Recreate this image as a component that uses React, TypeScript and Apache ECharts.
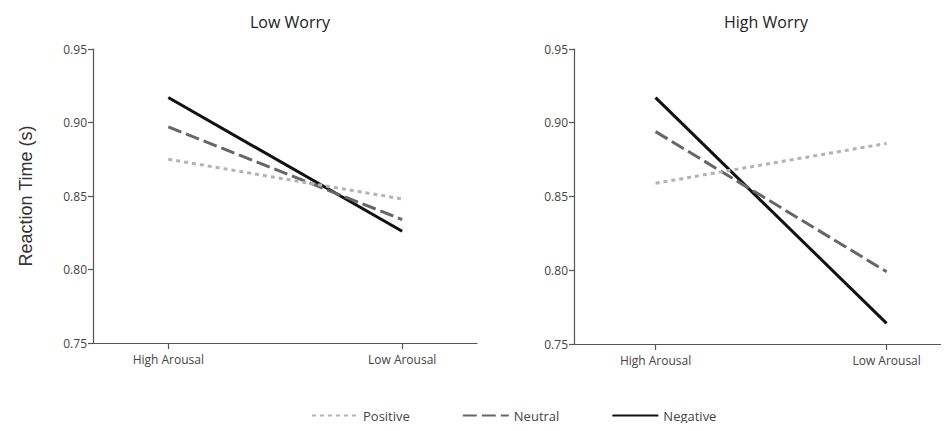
import React, { useEffect, useRef } from "react";
import * as echarts from "echarts";

const categories = ["High Arousal", "Low Arousal"];
const panels = ["Low Worry", "High Worry"];
const seriesNames = ["Positive", "Neutral", "Negative"];
const lowWorryPositive = [0.875, 0.848];
const lowWorryNeutral = [0.897, 0.834];
const lowWorryNegative = [0.917, 0.826];
const highWorryPositive = [0.859, 0.886];
const highWorryNeutral = [0.894, 0.799];
const highWorryNegative = [0.917, 0.764];
const yTicks = [0.75, 0.8, 0.85, 0.9, 0.95];

const FONT = "'Open Sans', 'Liberation Sans', sans-serif";

export default function App() {
  const ref = useRef<HTMLDivElement>(null);
  useEffect(() => {
    if (!ref.current) return;
    const chart = echarts.init(ref.current, undefined, { renderer: "svg" });
    const styles = [
      { color: "#b3b3b3", width: 3, type: [4, 4] as any },
      { color: "#666666", width: 3, type: [14, 5] as any },
      { color: "#111111", width: 3, type: "solid" as any },
    ];
    const data = [
      [lowWorryPositive, lowWorryNeutral, lowWorryNegative],
      [highWorryPositive, highWorryNeutral, highWorryNegative],
    ];
    const series: any[] = [];
    data.forEach((panel, pi) => {
      panel.forEach((vals, si) => {
        series.push({
          type: "line",
          name: seriesNames[si],
          xAxisIndex: pi,
          yAxisIndex: pi,
          data: vals.map((v, i) => [i, v]),
          symbol: "none",
          lineStyle: { ...styles[si], cap: "butt" },
          itemStyle: { color: styles[si].color },
          z: 3 - si,
        });
      });
    });
    const axisLineStyle = { color: "#555", width: 1.2 };
    const xAxis = [
      { min: -0.322, max: 1.32 },
      { min: -0.353, max: 1.27 },
    ].map((r, i) => ({
      type: "value",
      gridIndex: i,
      min: r.min,
      max: r.max,
      splitLine: { show: false },
      axisLine: { show: true, onZero: false, lineStyle: axisLineStyle },
      axisTick: { show: true, length: 6, lineStyle: axisLineStyle, customValues: [0, 1] },
      axisLabel: {
        customValues: [0, 1],
        formatter: (v: number) => categories[Math.round(v)] ?? "",
        color: "#444",
        fontSize: 12,
        fontFamily: FONT,
        margin: 10,
      },
    }));
    const yAxis = [0, 1].map((i) => ({
      type: "value",
      gridIndex: i,
      min: yTicks[0],
      max: yTicks[yTicks.length - 1],
      interval: 0.05,
      name: i === 0 ? "Reaction Time (s)" : "",
      nameLocation: "middle",
      nameGap: 58,
      nameTextStyle: { fontSize: 18, color: "#333", fontFamily: "'Liberation Sans', Arial, sans-serif" },
      splitLine: { show: false },
      axisLine: { show: true, onZero: false, lineStyle: axisLineStyle },
      axisTick: { show: true, length: 5, lineStyle: axisLineStyle },
      axisLabel: {
        formatter: (v: number) => v.toFixed(2),
        color: "#444",
        fontSize: 12,
        fontFamily: FONT,
        margin: 6,
      },
    }));
    chart.setOption({
      animation: false,
      backgroundColor: "#fff",
      title: panels.map((t, i) => ({
        text: t,
        left: i === 0 ? 285 : 761,
        top: 9,
        textAlign: "center",
        textStyle: { fontSize: 16, fontWeight: "normal", color: "#222", fontFamily: FONT },
      })),
      grid: [
        { left: 93, right: 472, top: 49, bottom: 88 },
        { left: 574, right: 0, top: 49, bottom: 87 },
      ],
      legend: {
        data: seriesNames,
        bottom: 4,
        left: 306,
        itemWidth: 46,
        itemHeight: 10,
        itemGap: 52,
        itemStyle: { opacity: 0 },
        textStyle: { fontSize: 13, color: "#444", fontFamily: FONT },
      },
      xAxis,
      yAxis,
      series,
    });
    return () => chart.dispose();
  }, []);
  return <div ref={ref} style={{ width: 949, height: 431, margin: -8 }} />;
}
